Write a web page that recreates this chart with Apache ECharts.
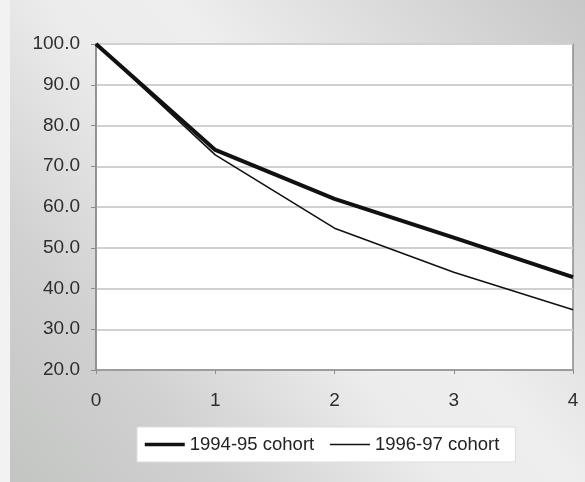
<!DOCTYPE html>
<html>
<head>
<meta charset="utf-8">
<script src="https://cdn.jsdelivr.net/npm/echarts@6/dist/echarts.min.js"></script>
<style>
  html, body { margin: 0; padding: 0; background: #f2f2f2; }
  #chart { width: 585px; height: 482px; }
</style>
</head>
<body>
<div id="chart"></div>
<script>
// Years since entry (x axis)
const years = [0, 1, 2, 3, 4];
// Percentage of each cohort still enrolled
const cohort9495 = [100.0, 74.0, 62.0, 52.5, 42.8];
const cohort9697 = [100.0, 72.8, 54.8, 44.0, 34.8];
const seriesNames = ['1994-95 cohort', '1996-97 cohort'];
const lineWidths = [4, 1.6];

const chart = echarts.init(document.getElementById('chart'), null, { renderer: 'canvas' });

const font = '"Liberation Sans", Arial, sans-serif';

chart.setOption({
  animation: false,
  backgroundColor: '#f2f2f2',
  graphic: [{
    type: 'rect',
    z: -10,
    silent: true,
    shape: { x: 10, y: 0, width: 575, height: 482 },
    style: {
      fill: new echarts.graphic.LinearGradient(1, 0, 0, 1, [
        { offset: 0, color: '#c6c7c6' },
        { offset: 0.42, color: '#eeeeee' },
        { offset: 0.55, color: '#ececec' },
        { offset: 0.78, color: '#d0d1d0' },
        { offset: 1, color: '#c3c5c3' }
      ])
    }
  }],
  grid: {
    left: 96, right: 12, top: 44, bottom: 112,
    show: true,
    backgroundColor: '#ffffff',
    borderColor: '#8c8c8c',
    borderWidth: 1.5
  },
  legend: {
    left: 137, top: 427,
    backgroundColor: '#ffffff',
    borderColor: '#dddddd',
    borderWidth: 1,
    borderRadius: 0,
    padding: [8, 16, 8, 6],
    itemWidth: 40,
    itemHeight: 14,
    itemGap: 15,
    textStyle: { fontFamily: font, fontSize: 18.5, color: '#222', lineHeight: 18 },
    data: seriesNames.map((name, i) => ({
      name,
      itemStyle: { opacity: 0 },
      lineStyle: { color: '#111111', width: lineWidths[i] === 4 ? 3.5 : 1.5 }
    }))
  },
  xAxis: {
    type: 'value',
    min: 0, max: 4, interval: 1,
    axisLine: { show: true, lineStyle: { color: '#8c8c8c', width: 1.5 } },
    axisTick: { show: true, length: 4, lineStyle: { color: '#8c8c8c' } },
    axisLabel: { fontFamily: font, fontSize: 19, color: '#2e2e2e', margin: 21 },
    splitLine: { show: false }
  },
  yAxis: {
    type: 'value',
    min: 20, max: 100, interval: 10,
    axisLine: { show: true, lineStyle: { color: '#8c8c8c', width: 1.5 } },
    axisTick: { show: true, length: 5, lineStyle: { color: '#8c8c8c' } },
    axisLabel: {
      fontFamily: font, fontSize: 19, color: '#2e2e2e', margin: 16,
      formatter: v => v.toFixed(1)
    },
    splitLine: { show: true, lineStyle: { color: '#d0d0d0', width: 2 } }
  },
  series: seriesNames.map((name, i) => ({
    name,
    type: 'line',
    symbol: 'none',
    data: years.map((x, j) => [x, (i === 0 ? cohort9495 : cohort9697)[j]]),
    lineStyle: { color: '#111111', width: lineWidths[i] },
    itemStyle: { color: '#111111' },
    z: 3 - i
  }))
});
</script>
</body>
</html>
